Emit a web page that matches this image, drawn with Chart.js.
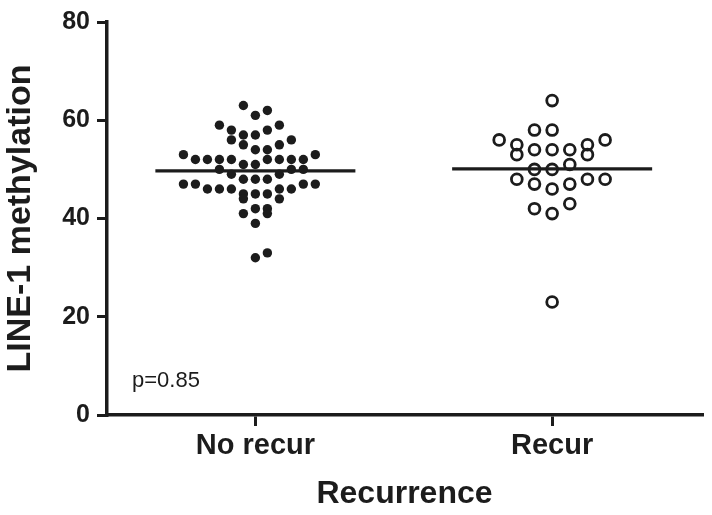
<!DOCTYPE html>
<html>
<head>
<meta charset="utf-8">
<script src="https://cdn.jsdelivr.net/npm/chart.js@4/dist/chart.umd.min.js"></script>
<style>
  html, body { margin: 0; padding: 0; background: #ffffff; }
  #wrap { width: 712px; height: 515px; position: relative; }
</style>
</head>
<body>
<div id="wrap"><canvas id="c" width="712" height="515"></canvas></div>
<script>
// ---- data ----
const categories = ['No recur', 'Recur'];
const yTicks = [0, 20, 40, 60, 80];

// LINE-1 methylation values (No recurrence) and their beeswarm column index
const noRecurValues = [63,61,62,59,59,58,58,57,57,56,56,55,55,54,54,53,53,52,52,52,52,52,52,52,52,51,51,50,50,50,49,49,48,48,48,47,47,47,47,46,46,46,46,46,45,45,45,44,44,42,42,41,41,39,32,33];
const noRecurCols   = [-1,0,1,-3,2,-2,1,-1,0,-2,3,-1,2,0,1,-6,5,-5,-4,-3,-2,1,2,3,4,-1,0,-3,3,4,-2,2,-1,0,1,-6,-5,4,5,-4,-3,-2,2,3,-1,0,1,-1,2,0,1,-1,1,0,0,1];

// LINE-1 methylation values (Recurrence) and their beeswarm column index
const recurValues = [64,58,58,56,56,55,55,54,54,54,53,53,51,50,50,48,48,48,47,47,46,43,42,41,23];
const recurCols   = [0,-1,0,-3,3,-2,2,-1,0,1,-2,2,1,-1,0,-2,2,3,-1,1,0,1,-1,0,0];

// group means (horizontal bars)
const means = [49.7, 50.1];
const pValueText = 'p=0.85';

// ---- presentation ----
const INK = '#1c1c1c';
const FONT = "'Liberation Sans', Arial, Helvetica, sans-serif";
const colStep = [0.0404, 0.0595];   // column spacing in category units
const meanHalf = 0.337;             // half width of mean bar in category units

function swarm(values, cols, catIndex) {
  return values.map((v, i) => ({ x: catIndex + 1 + cols[i] * colStep[catIndex], y: v }));
}
function meanLine(catIndex) {
  return [
    { x: catIndex + 1 - meanHalf, y: means[catIndex] },
    { x: catIndex + 1 + meanHalf, y: means[catIndex] }
  ];
}

const pLabel = {
  id: 'pLabel',
  afterDraw(chart) {
    const ctx = chart.ctx, a = chart.chartArea;
    ctx.save();
    ctx.fillStyle = INK;
    ctx.font = "22px " + FONT;
    ctx.textAlign = 'left';
    ctx.textBaseline = 'alphabetic';
    ctx.fillText(pValueText, a.left + 25, a.bottom - 28);
    ctx.restore();
  }
};

new Chart(document.getElementById('c'), {
  type: 'scatter',
  data: {
    datasets: [
      {
        label: categories[0],
        data: swarm(noRecurValues, noRecurCols, 0),
        pointRadius: 4.7,
        pointBackgroundColor: INK,
        pointBorderWidth: 0,
        pointBorderColor: INK,
        showLine: false
      },
      {
        label: categories[1],
        data: swarm(recurValues, recurCols, 1),
        pointRadius: 5.4,
        pointBackgroundColor: 'rgba(0,0,0,0)',
        pointBorderWidth: 2.8,
        pointBorderColor: INK,
        showLine: false
      },
      {
        label: 'mean ' + categories[0],
        data: meanLine(0),
        showLine: true,
        borderColor: INK,
        borderWidth: 3.2,
        pointRadius: 0
      },
      {
        label: 'mean ' + categories[1],
        data: meanLine(1),
        showLine: true,
        borderColor: INK,
        borderWidth: 3.2,
        pointRadius: 0
      }
    ]
  },
  options: {
    responsive: false,
    animation: false,
    events: [],
    layout: { padding: { top: 18, right: 10, left: 0, bottom: 0 } },
    plugins: {
      legend: { display: false },
      tooltip: { enabled: false }
    },
    scales: {
      x: {
        type: 'linear',
        min: 0.5,
        max: 2.505,
        afterBuildTicks(s) { s.ticks = categories.map((c, i) => ({ value: i + 1 })); },
        afterFit(s) { s.height = 100; },
        grid: {
          display: true, drawOnChartArea: false, drawTicks: true,
          tickLength: 11, lineWidth: 3, color: INK
        },
        border: { display: true, width: 3.5, color: INK },
        ticks: {
          autoSkip: false, maxRotation: 0, padding: 3, color: INK,
          font: { family: FONT, size: 29, weight: 'bold' },
          callback: (v) => categories[Math.round(v) - 1]
        },
        title: {
          display: true, text: 'Recurrence', color: INK,
          font: { family: FONT, size: 32, weight: 'bold' },
          padding: { top: 0, bottom: 2 }
        }
      },
      y: {
        min: 0,
        max: 80,
        afterBuildTicks(s) { s.ticks = yTicks.map(v => ({ value: v })); },
        afterFit(s) { s.width = 107; },
        grid: {
          display: true, drawOnChartArea: false, drawTicks: true,
          tickLength: 10, lineWidth: 3, color: INK
        },
        border: { display: true, width: 3.5, color: INK },
        ticks: {
          padding: 7, color: INK,
          font: { family: FONT, size: 25, weight: 'bold' }
        },
        title: {
          display: true, text: 'LINE-1 methylation', color: INK,
          font: { family: FONT, size: 34, weight: 'bold' },
          padding: 0
        }
      }
    }
  },
  plugins: [pLabel]
});
</script>
</body>
</html>
